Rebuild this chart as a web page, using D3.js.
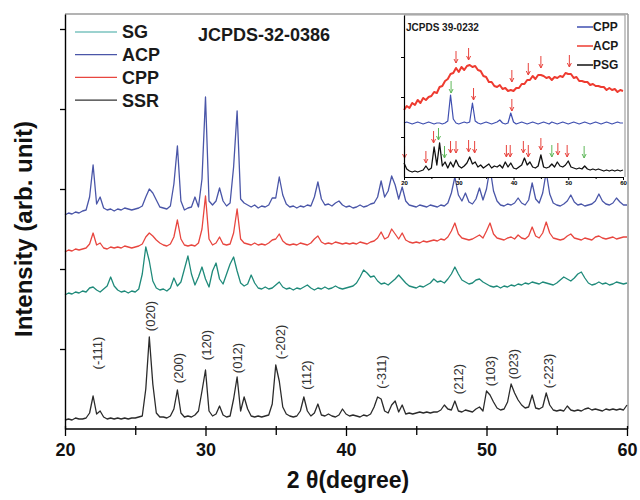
<!DOCTYPE html>
<html>
<head>
<meta charset="utf-8">
<script src="https://cdn.jsdelivr.net/npm/d3@7"></script>
<style>
  body { margin: 0; background: #fff; }
  svg { display: block; }
  text { font-family: "Liberation Sans", Arial, sans-serif; }
</style>
</head>
<body>
<svg id="chart" width="640" height="500"></svg>
<script>
// 2-theta grid of the main patterns, 0.25 degree steps
const twoTheta = d3.range(0, 161).map(i => 20 + i * 0.25);

// intensities (stacked, arbitrary units)
const ssr = [
  9,10,9,11,10,10,11,16,33,15, 18,12,10,11,10,11,10,11,10,11,
  11,12,13,40,92,45,16,12,12,11, 13,20,39,16,12,13,12,14,18,38,
  59,18,13,15,23,14,12,13,30,52, 18,32,20,13,12,13,12,13,14,25,
  64,48,22,15,13,12,13,18,32,18, 13,16,25,14,13,15,13,12,14,20,
  15,13,14,13,12,14,13,15,22,32, 30,18,16,24,28,17,24,15,16,15,
  16,17,16,17,16,17,17,19,24,20, 19,28,18,17,19,18,17,20,22,18,
  38,34,27,21,19,20,27,45,36,29, 24,21,22,34,21,20,22,36,24,19,
  18,19,18,23,19,18,19,18,20,21, 19,20,19,18,20,19,20,19,20,19,
  24
];
const sg = [
  134,136,135,137,136,138,137,141,142,139, 137,140,143,152,143,139,137,138,136,138,
  137,140,155,182,168,148,141,139,140,138, 141,151,143,147,160,173,155,144,152,162,
  150,142,158,166,150,145,155,165,172,158, 146,143,145,154,146,141,140,142,140,141,
  144,147,142,140,141,139,141,140,142,144, 141,139,141,140,142,140,141,143,141,140,
  141,142,143,146,152,159,156,152,153,148, 145,146,144,147,150,154,150,146,143,142,
  141,143,142,144,146,150,147,148,146,150, 155,162,155,149,147,145,146,149,150,147,
  145,143,142,143,141,143,142,144,143,145, 144,146,145,147,146,145,147,146,145,144,
  146,149,152,150,148,151,155,157,151,146, 144,145,147,145,146,144,145,147,146,145,
  146
];
const cpp = [
  177,179,178,180,179,180,181,185,196,184, 186,181,180,182,181,182,181,183,182,181,
  182,183,185,192,196,193,189,186,184,183, 185,192,209,190,184,183,184,183,186,200,
  233,190,184,186,192,185,184,185,196,220, 190,186,185,184,186,184,185,184,186,189,
  190,195,188,185,184,185,184,186,185,184, 186,190,193,187,185,186,185,187,186,185,
  186,185,186,185,187,186,185,187,188,191, 197,190,192,200,195,190,196,189,187,186,
  187,186,188,187,188,189,188,190,189,192, 198,206,195,191,190,189,190,192,194,191,
  198,206,195,191,190,189,191,192,190,194, 191,190,193,202,193,191,196,207,196,191,
  190,189,190,193,195,191,190,189,191,190, 189,192,193,191,190,191,192,190,191,192,
  192
];
const acp = [
  214,216,215,217,216,218,219,232,264,225, 232,221,219,220,218,220,219,221,220,219,
  220,221,223,232,240,236,229,222,221,220, 223,245,283,228,219,221,222,232,222,250,
  332,228,224,228,241,228,223,226,262,318, 230,226,224,222,224,221,223,222,224,231,
  231,252,234,225,222,223,221,223,222,224, 223,232,247,230,224,225,223,226,228,224,
  222,223,221,222,224,222,223,225,226,232, 248,232,238,253,244,230,242,228,224,223,
  222,224,223,222,224,223,222,224,223,226, 236,252,234,228,236,227,225,230,241,229,
  240,261,238,228,224,223,225,224,226,231, 226,224,229,246,230,226,236,257,235,226,
  224,223,225,228,234,227,224,225,223,224, 225,228,235,228,225,224,226,231,227,224,
  224
];

const seriesNames = ["SG", "ACP", "CPP", "SSR"];
const seriesColors = ["#1f8a7a", "#4a56a8", "#e8463f", "#2b2b2b"];
const legendColors = ["#3aa6a0", "#4a56a8", "#e8463f", "#333333"];
const seriesData = [sg, acp, cpp, ssr];

// Miller indices of the SSR peaks
const hklLabels = ["(-111)", "(020)", "(200)", "(120)", "(012)", "(-202)", "(112)",
                   "(-311)", "(212)", "(103)", "(023)", "(-223)"];
const hklTheta = [22.3, 26.1, 28.06, 30.08, 32.29, 35.3, 37.15, 42.5, 47.99, 50.25, 51.9, 54.4];
const hklLevel = [76, 113, 61, 84, 71, 87, 54, 57, 50, 58, 65, 58];

// inset: 0.5 degree steps
const insetTheta = d3.range(0, 81).map(i => 20 + i * 0.5);
const insetAcp = [
  67,71,69,74,72,77,74,79,77,80, 81,85,84,90,91,96,98,103,104,109,
  105,110,107,111,112,110,111,107,106,101, 100,95,95,91,90,92,88,89,86,87,
  86,89,89,93,93,97,97,101,98,102, 102,101,99,100,97,100,99,101,100,104,
  103,103,99,100,96,96,95,95,92,93, 91,91,90,90,87,89,87,88,85,87,
  86
];
const insetCpp = [
  54,55,54,53,54,55,54,53,54,55, 54,53,54,54,53,54,56,82,58,54,
  53,54,55,54,55,74,56,54,53,54, 55,54,53,54,55,57,54,53,54,64,
  55,53,54,55,54,53,54,55,54,53, 54,55,54,53,55,54,53,54,55,54,
  53,54,55,54,53,54,55,54,53,54, 55,54,53,54,55,54,53,54,55,54,
  54
];
const insetPsg = [
  14,8,6,5,6,5,6,7,11,7, 9,30,12,34,11,15,9,15,10,17,
  11,9,11,14,20,13,15,10,12,9, 11,13,9,11,10,12,9,15,10,14,
  9,8,10,12,19,12,15,10,9,11, 22,10,9,10,13,10,15,11,10,12,
  16,10,9,8,9,8,11,8,7,8, 7,8,7,6,7,6,7,6,7,6,
  7
];
const insetNames = ["CPP", "ACP", "PSG"];
const insetColors = ["#3f4fb0", "#ee3b30", "#111111"];
const insetWidths = [1.2, 2, 1.3];
const insetData = [insetCpp, insetAcp, insetPsg];

// marker arrows in the inset
const arrowTheta = [29.5, 31.8, 39.7, 42.7, 45.0, 50.2, 28.6, 32.7, 39.7,
  20.1, 24.0, 25.4, 26.3, 27.4, 28.5, 29.5, 31.8, 32.9, 38.7, 39.4, 41.8, 42.7, 45.0, 47.0, 48.1, 49.8, 52.9];
const arrowTip = [114, 117, 95, 102, 109, 110, 84, 77, 66,
  19, 14, 34, 37, 19, 24, 24, 25, 24, 20, 20, 24, 20, 27, 20, 22, 20, 19];
const arrowKind = ["r","r","r","r","r","r","g","r","r",
  "r","r","r","g","g","r","r","r","r","r","r","r","r","r","g","r","r","g"];
const arrowColor = {r: "#e8423c", g: "#5fb85a"};

const svg = d3.select("#chart");

const x = d3.scaleLinear().domain([20, 60]).range([65, 627]);
const y = d3.scaleLinear().domain([0, 415]).range([429, 14]);

// frame top / right
svg.append("line").attr("x1", 65).attr("x2", 628).attr("y1", 14).attr("y2", 14)
  .attr("stroke", "#9a9a9a").attr("stroke-width", 1.5);
svg.append("line").attr("x1", 628).attr("x2", 628).attr("y1", 14).attr("y2", 429)
  .attr("stroke", "#9a9a9a").attr("stroke-width", 1.5);

// curves
const line = d3.line().x((d, i) => x(twoTheta[i])).y(d => y(d));
seriesData.forEach((s, k) => {
  svg.append("path").datum(s)
    .attr("d", line)
    .attr("fill", "none")
    .attr("stroke", seriesColors[k])
    .attr("stroke-width", 1.3)
    .attr("stroke-linejoin", "round");
});

// hkl labels
svg.append("g").selectAll("text").data(hklLabels).join("text")
  .attr("transform", (d, i) => `translate(${x(hklTheta[i])},${y(hklLevel[i])}) rotate(-90)`)
  .attr("text-anchor", "middle")
  .attr("dy", "0.35em")
  .attr("font-size", 13)
  .attr("fill", "#333")
  .text(d => d);

// axes
const yAxis = svg.append("g").attr("transform", "translate(65,0)")
  .call(d3.axisLeft(y).tickValues([80, 160, 240, 320, 400]).tickSize(5).tickSizeOuter(0).tickFormat(""));
yAxis.select(".domain").attr("stroke-width", 1.4);
yAxis.selectAll(".tick line").attr("stroke-width", 1.3);

const xAxis = svg.append("g").attr("transform", "translate(0,426)")
  .call(d3.axisBottom(x).tickValues([20, 30, 40, 50, 60]).tickSize(10).tickPadding(7).tickSizeOuter(0));
xAxis.select(".domain").remove();
xAxis.selectAll(".tick line").attr("stroke-width", 1.3);
xAxis.selectAll("text").attr("font-size", 18).attr("font-weight", "bold")
  .attr("font-family", "Liberation Sans, Arial, sans-serif").attr("fill", "#111");
const xMinor = svg.append("g").attr("transform", "translate(0,426)")
  .call(d3.axisBottom(x).tickValues([25, 35, 45, 55]).tickSize(9).tickFormat("").tickSizeOuter(0));
xMinor.select(".domain").remove();
xMinor.selectAll(".tick line").attr("stroke-width", 1.3);
svg.append("line").attr("x1", 65).attr("x2", 628).attr("y1", 429).attr("y2", 429)
  .attr("stroke", "#000").attr("stroke-width", 1.4);

svg.append("text").attr("x", 348).attr("y", 488).attr("text-anchor", "middle")
  .attr("font-size", 23).attr("font-weight", "bold").attr("fill", "#111")
  .text("2 \u03b8(degree)");
svg.append("text").attr("transform", "translate(32,229) rotate(-90)")
  .attr("text-anchor", "middle")
  .attr("font-size", 24).attr("font-weight", "bold").attr("fill", "#111")
  .text("Intensity (arb. unit)");

// legend
const legend = svg.append("g");
seriesNames.forEach((n, i) => {
  const ly = 32 + i * 22.7;
  legend.append("line").attr("x1", 75).attr("x2", 117).attr("y1", ly).attr("y2", ly)
    .attr("stroke", legendColors[i]).attr("stroke-width", 1.2);
  legend.append("text").attr("x", 122).attr("y", ly).attr("dy", "0.36em")
    .attr("font-size", 18).attr("font-weight", "bold").attr("fill", "#1a1a1a").text(n);
});
svg.append("text").attr("x", 198).attr("y", 41).attr("font-size", 18)
  .attr("font-weight", "bold").attr("fill", "#1a1a1a").text("JCPDS-32-0386");

// inset
const ix = d3.scaleLinear().domain([20, 60]).range([404, 623]);
const iy = d3.scaleLinear().domain([0, 162]).range([177, 15]);
const inset = svg.append("g");
inset.append("rect").attr("x", 404).attr("y", 15).attr("width", 221).attr("height", 162).attr("fill", "#fff");
inset.append("line").attr("x1", 404).attr("x2", 625).attr("y1", 15).attr("y2", 15)
  .attr("stroke", "#a0a0a0").attr("stroke-width", 1.2);
inset.append("line").attr("x1", 625).attr("x2", 625).attr("y1", 15).attr("y2", 177)
  .attr("stroke", "#a0a0a0").attr("stroke-width", 1.2);

const iline = d3.line().x((d, i) => ix(insetTheta[i])).y(d => iy(d));
insetData.forEach((s, k) => {
  inset.append("path").datum(s).attr("d", iline).attr("fill", "none")
    .attr("stroke", insetColors[k]).attr("stroke-width", insetWidths[k]).attr("stroke-linejoin", "round");
});

arrowTheta.forEach((t, i) => {
  const ax = ix(t), ay = iy(arrowTip[i]);
  const c = arrowColor[arrowKind[i]];
  inset.append("line").attr("x1", ax).attr("x2", ax).attr("y1", ay - 12).attr("y2", ay)
    .attr("stroke", c).attr("stroke-width", 1);
  inset.append("path").attr("d", `M${ax - 2},${ay - 4}L${ax},${ay}L${ax + 2},${ay - 4}`)
    .attr("fill", "none").attr("stroke", c).attr("stroke-width", 1);
});

const ixAxis = inset.append("g").attr("transform", "translate(0,177)")
  .call(d3.axisBottom(ix).tickValues([20, 30, 40, 50, 60]).tickSize(3).tickPadding(1).tickSizeOuter(0));
ixAxis.selectAll("text").attr("font-size", 6).attr("font-weight", "bold")
  .attr("font-family", "Liberation Sans, Arial, sans-serif");
ixAxis.select(".domain").attr("stroke-width", 1.2);
inset.append("g").attr("transform", "translate(0,177)")
  .call(d3.axisBottom(ix).tickValues([25, 35, 45, 55]).tickSize(2).tickFormat("").tickSizeOuter(0))
  .select(".domain").remove();
inset.append("g").attr("transform", "translate(404,0)")
  .call(d3.axisLeft(iy).tickValues([40, 80, 120]).tickSize(3).tickFormat("").tickSizeOuter(0))
  .select(".domain").attr("stroke-width", 1.2);

inset.append("text").attr("x", 406).attr("y", 31).attr("font-size", 10)
  .attr("font-weight", "bold").attr("fill", "#1a1a1a").text("JCPDS 39-0232");
insetNames.forEach((n, i) => {
  const ly = 27 + i * 19;
  inset.append("line").attr("x1", 577).attr("x2", 593).attr("y1", ly).attr("y2", ly)
    .attr("stroke", insetColors[i]).attr("stroke-width", 1.5);
  inset.append("text").attr("x", 593).attr("y", ly).attr("dy", "0.36em")
    .attr("font-size", 12).attr("font-weight", "bold").attr("fill", "#1a1a1a").text(n);
});
</script>
</body>
</html>
